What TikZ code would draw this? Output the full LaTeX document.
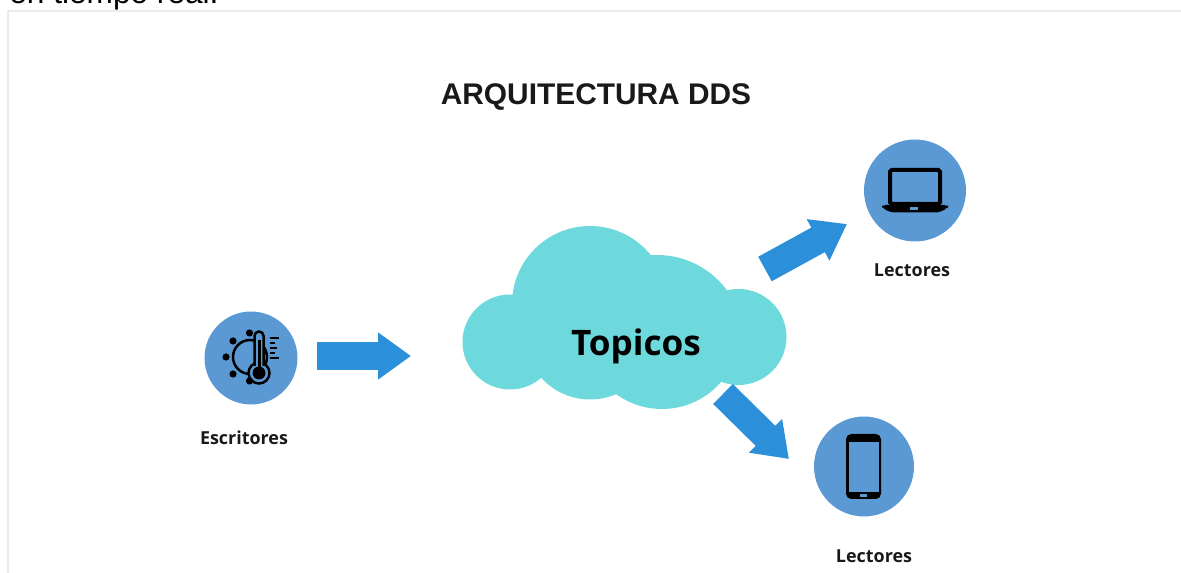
\documentclass[tikz,border=0pt]{standalone}
\usepackage{fontspec}
\setmainfont{Open Sans}
\newfontfamily\titlefont{Liberation Sans}
\usetikzlibrary{calc,arrows.meta}
\definecolor{circleblue}{RGB}{91,153,212}
\definecolor{arrowblue}{RGB}{43,144,217}
\definecolor{cloudcyan}{RGB}{109,217,220}
\definecolor{framegray}{RGB}{232,234,237}
\definecolor{labelblack}{RGB}{25,25,25}
\tikzset{
  iconcircle/.style={circle,fill=circleblue,inner sep=0pt},
  fatarrow/.style={draw=arrowblue,line width=0.56cm,
    -{Triangle[length=0.66cm,width=0.9cm,fill=arrowblue]}},
  labelnode/.style={font=\bfseries\fontsize{10.2}{12}\selectfont,text=labelblack},
  icon/.style={draw=black,line width=0.05cm},
}
\begin{document}
\begin{tikzpicture}[x=0.02cm,y=-0.02cm]
  \useasboundingbox (0,0) rectangle (1181,573);
  \clip (0,0) rectangle (1181,573);

  %
  % Cadre
  %
  \node[anchor=base west,inner sep=0pt,font=\titlefont\fontsize{18}{20}\selectfont] (textline) at (9,4) {en tiempo real.};
  \draw[framegray,line width=0.04cm] (8,580) -- (8,11) -- (1190,11);

  \node[font=\titlefont\bfseries\fontsize{17}{20}\selectfont,text=labelblack] (title) at (596,97) {ARQUITECTURA DDS};

  %
  % Nube
  %
  \fill[cloudcyan] (510,342) circle[radius=47.5] (590,304) circle[radius=78]
    (738.5,337) circle[radius=48] (590,334) circle[radius=65.5];
  \begin{scope}
    \clip (560,200) rectangle (760,340);
    \fill[cloudcyan] (657,342) circle[radius=87];
  \end{scope}
  \begin{scope}
    \clip (560,335) rectangle (760,420);
    \fill[cloudcyan] (662,331) circle[radius=78];
  \end{scope}
  \node[font=\bfseries\fontsize{20}{24}\selectfont,text=black] (topics) at (636,346) {Topicos};

  %
  % Cercles
  %
  \node[iconcircle,minimum size=1.86cm] (writer) at (251,358) {};
  \node[iconcircle,minimum size=2.04cm] (laptop) at (915,190.5) {};
  \node[iconcircle,minimum size=2.00cm] (phone) at (864,466.5) {};

  \node[labelnode] (writerlabel) at (244,438) {Escritores};
  \node[labelnode] (laptoplabel) at (912,270) {Lectores};
  \node[labelnode] (phonelabel) at (874,556) {Lectores};

  %
  % Flèches
  %
  \coordinate (a1) at (317,356);
  \coordinate (b1) at (411,356);
  \coordinate (a2) at (765,269);
  \coordinate (b2) at (847,224);
  \coordinate (a3) at (723,394);
  \coordinate (b3) at (789,459);
  \draw[fatarrow] (a1) -- (b1);
  \draw[fatarrow] (a2) -- (b2);
  \draw[fatarrow] (a3) -- (b3);

  %
  % Icône ordinateur
  %
  \draw[icon,line width=0.08cm,rounded corners=1pt] (890,170) rectangle (940,204);
  \fill[black,rounded corners=2pt] (882,205) -- (948,205) -- (948,208) -- (939,212.5) -- (891,212.5) -- (882,208) -- cycle;
  \fill[circleblue] (910,207) rectangle (918,210);

  %
  % Icône téléphone
  %
  \fill[black,rounded corners=3pt] (846,434) rectangle (881,499);
  \fill[circleblue] (848.5,442) rectangle (878.5,492);
  \fill[circleblue] (860,494) rectangle (867,497);

  %
  % Icône thermomètre
  %
  \draw[icon] (250,357) circle[radius=17];
  \draw[icon,fill=circleblue] (259,373) circle[radius=10.5];
  \draw[icon,fill=circleblue] (254.5,366) -- (254.5,336) arc[start angle=180,end angle=360,radius=4.5] -- (263.5,366);
  \fill[circleblue] (256,362) rectangle (262,369);
  \fill[black] (259,373) circle[radius=6.5];
  \draw[icon,line width=0.06cm] (259,340) -- (259,370);
  \foreach \px/\py in {249.5/333,233/341,226/357,233/374,249.5/381}{%
    \fill[black] (\px,\py) circle[radius=3.6];
  }
  \foreach \py/\pl in {338/9,343/5,348/7,353/5,358/9}{%
    \draw[black,line width=0.04cm] (270,\py) -- ++(\pl,0);
  }
\end{tikzpicture}
\end{document}
